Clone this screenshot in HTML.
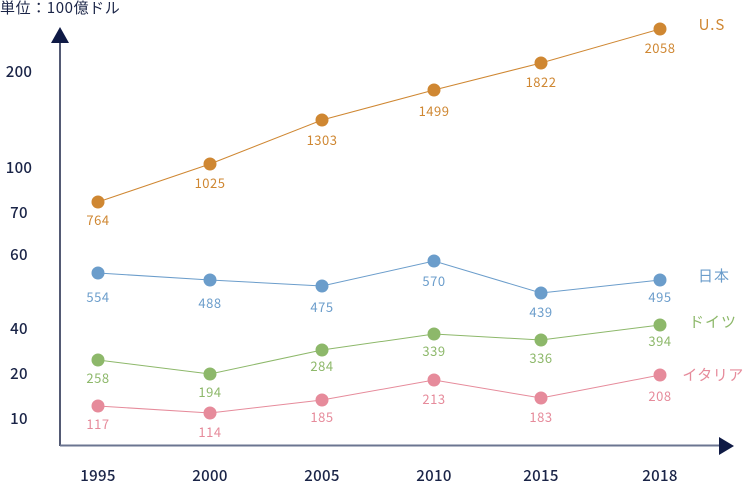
<!DOCTYPE html>
<html><head><meta charset="utf-8"><style>
html,body{margin:0;padding:0;background:#fff;}
svg{display:block;font-family:"Liberation Sans","Noto Sans CJK JP",sans-serif;}
</style></head><body>
<svg width="743" height="483" viewBox="0 0 743 483" xmlns="http://www.w3.org/2000/svg">
<g font-family="'Noto Sans CJK JP','Liberation Sans',sans-serif">
<text x="0" y="13" font-size="15" letter-spacing="0.6" fill="#1a2447">単位：100億ドル</text>
<line x1="60" y1="40" x2="60" y2="446" stroke="#1a2447" stroke-width="1.5"/>
<polygon points="60,27 51,43 69,43" fill="#0f1a45"/>
<line x1="60" y1="445.5" x2="722" y2="445.5" stroke="#6b7591" stroke-width="2"/>
<polygon points="734,446 719,437 719,455" fill="#0f1a45"/>
<g font-size="15" fill="#1a2447" text-anchor="middle" font-weight="500" letter-spacing="0.3">
<text x="19" y="77">200</text>
<text x="19" y="173">100</text>
<text x="19" y="218">70</text>
<text x="19" y="260">60</text>
<text x="19" y="334">40</text>
<text x="19" y="379">20</text>
<text x="19" y="424">10</text>
<text x="98" y="481">1995</text>
<text x="210" y="481">2000</text>
<text x="322" y="481">2005</text>
<text x="434" y="481">2010</text>
<text x="541" y="481">2015</text>
<text x="660" y="481">2018</text>
</g>
<g fill="#cf8732" stroke="#cf8732">
<polyline fill="none" stroke-width="1" points="98,202 210,164 322,120 434,90 541,63 660,29"/>
<circle cx="98" cy="202" r="6"/><circle cx="210" cy="164" r="6"/><circle cx="322" cy="120" r="6"/><circle cx="434" cy="90" r="6"/><circle cx="541" cy="63" r="6"/><circle cx="660" cy="29" r="6"/>
<g stroke="none" font-size="13" text-anchor="middle" letter-spacing="0.5">
<text x="98" y="225">764</text><text x="210" y="188">1025</text><text x="322" y="145">1303</text><text x="434" y="116">1499</text><text x="541" y="87">1822</text><text x="660" y="53">2058</text>
<text x="712" y="30" font-size="15" letter-spacing="1">U.S</text></g>
</g>
<g fill="#6b9dcb" stroke="#6b9dcb">
<polyline fill="none" stroke-width="1" points="98,273 210,280 322,286 434,261 541,293 660,280"/>
<circle cx="98" cy="273" r="6"/><circle cx="210" cy="280" r="6"/><circle cx="322" cy="286" r="6"/><circle cx="434" cy="261" r="6"/><circle cx="541" cy="293" r="6"/><circle cx="660" cy="280" r="6"/>
<g stroke="none" font-size="13" text-anchor="middle" letter-spacing="0.5">
<text x="98" y="302">554</text><text x="210" y="308">488</text><text x="322" y="312">475</text><text x="434" y="286">570</text><text x="541" y="317">439</text><text x="660" y="302">495</text>
<text x="714" y="281" font-size="15" letter-spacing="1">日本</text></g>
</g>
<g fill="#8db86a" stroke="#8db86a">
<polyline fill="none" stroke-width="1" points="98,360 210,374 322,350 434,334 541,340 660,325"/>
<circle cx="98" cy="360" r="6"/><circle cx="210" cy="374" r="6"/><circle cx="322" cy="350" r="6"/><circle cx="434" cy="334" r="6"/><circle cx="541" cy="340" r="6"/><circle cx="660" cy="325" r="6"/>
<g stroke="none" font-size="13" text-anchor="middle" letter-spacing="0.5">
<text x="98" y="383">258</text><text x="210" y="397">194</text><text x="322" y="371">284</text><text x="434" y="356">339</text><text x="541" y="363">336</text><text x="660" y="346">394</text>
<text x="713" y="327" font-size="15" letter-spacing="1">ドイツ</text></g>
</g>
<g fill="#e68b9b" stroke="#e68b9b">
<polyline fill="none" stroke-width="1" points="98,406 210,413 322,400 434,380 541,398 660,375"/>
<circle cx="98" cy="406" r="6"/><circle cx="210" cy="413" r="6"/><circle cx="322" cy="400" r="6"/><circle cx="434" cy="380" r="6"/><circle cx="541" cy="398" r="6"/><circle cx="660" cy="375" r="6"/>
<g stroke="none" font-size="13" text-anchor="middle" letter-spacing="0.5">
<text x="98" y="429">117</text><text x="210" y="437">114</text><text x="322" y="422">185</text><text x="434" y="404">213</text><text x="541" y="422">183</text><text x="660" y="401">208</text>
<text x="713" y="380" font-size="15" letter-spacing="0.5">イタリア</text></g>
</g>
</g>
</svg>
</body></html>
